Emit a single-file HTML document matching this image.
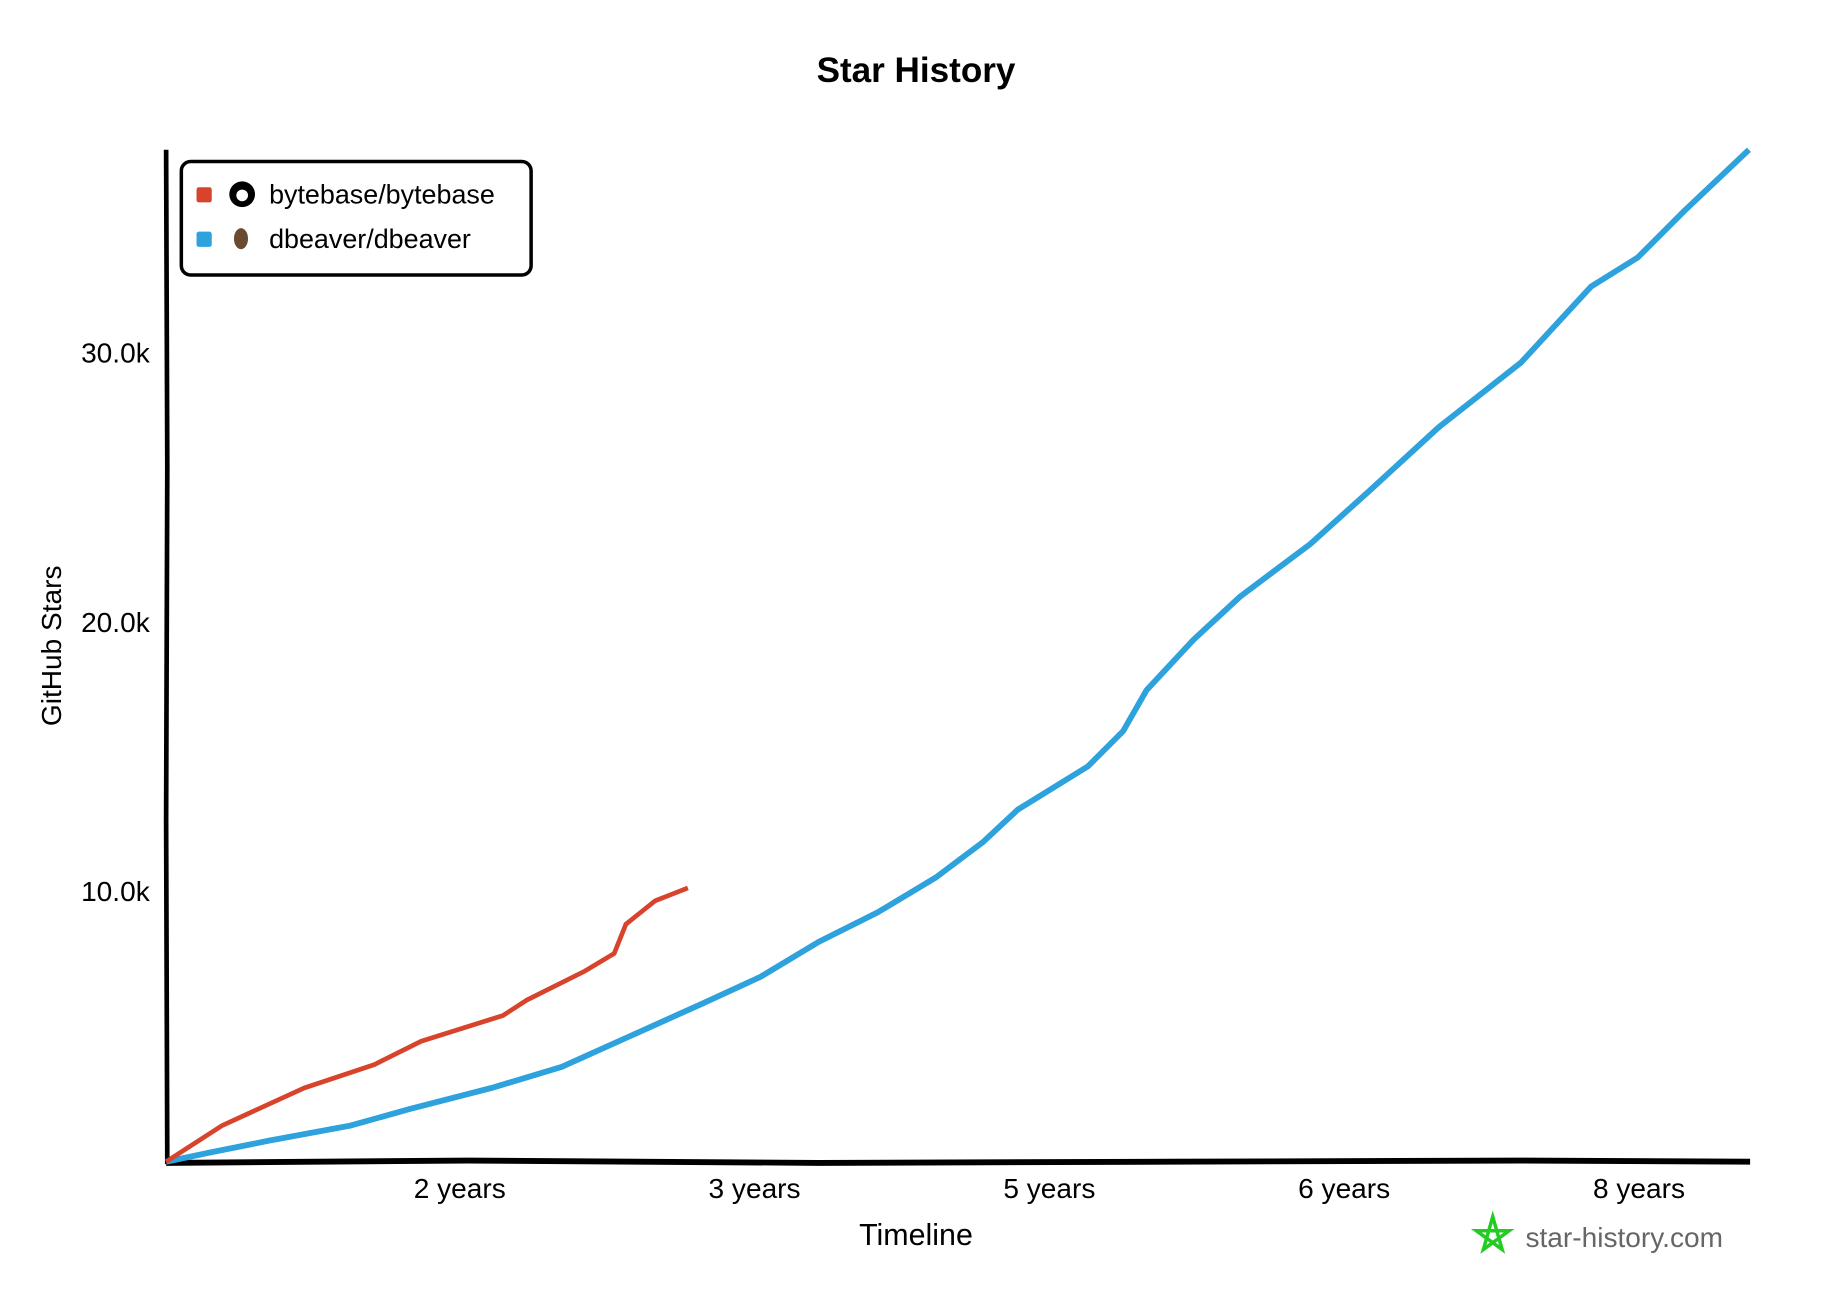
<!DOCTYPE html>
<html><head><style>
html,body{margin:0;padding:0;background:#fff;}
svg{display:block;}
text{font-family:"Liberation Sans",sans-serif;fill:#000;}
</style></head><body>
<svg width="1832" height="1308" viewBox="0 0 1566 1118" xmlns="http://www.w3.org/2000/svg">
<rect width="1566" height="1118" fill="#fff"/>
<text x="783" y="70" font-size="30" font-weight="bold" text-anchor="middle">Star History</text>
<path d="M142,128 L143,400 L142,700 L143,995" stroke="#000" stroke-width="4" fill="none"/>
<path d="M142,994 L400,992 L700,994 L1000,993 L1300,992 L1496,993" stroke="#000" stroke-width="5" fill="none"/>
<text x="128" y="310" font-size="24" text-anchor="end">30.0k</text>
<text x="128" y="540" font-size="24" text-anchor="end">20.0k</text>
<text x="128" y="770" font-size="24" text-anchor="end">10.0k</text>
<text transform="translate(52,552) rotate(-90)" font-size="24" text-anchor="middle">GitHub Stars</text>
<text x="393" y="1024" font-size="24" text-anchor="middle">2 years</text>
<text x="645" y="1024" font-size="24" text-anchor="middle">3 years</text>
<text x="897" y="1024" font-size="24" text-anchor="middle">5 years</text>
<text x="1149" y="1024" font-size="24" text-anchor="middle">6 years</text>
<text x="1401" y="1024" font-size="24" text-anchor="middle">8 years</text>
<text x="783" y="1064" font-size="26" text-anchor="middle">Timeline</text>
<polyline fill="none" stroke="#2ea2dc" stroke-width="5" stroke-linejoin="round" points="142,993 180,985 230,975 300,962 350,948 420,930 480,912 540,885 600,858 650,835 700,805 750,780 800,750 840,720 870,692 930,655 960,625 980,590 1020,547 1060,510 1120,465 1170,420 1230,365 1300,310 1360,245 1400,220 1440,180 1495,128"/>
<polyline fill="none" stroke="#d7442b" stroke-width="4" stroke-linejoin="round" points="142,993 190,962 260,930 320,910 360,890 430,868 450,855 500,830 525,815 535,790 560,770 588,759"/>
<rect x="155" y="138" width="299" height="97" rx="8" fill="#fff" stroke="#000" stroke-width="3"/>
<rect x="168" y="160" width="13" height="13" rx="2" fill="#d7442b"/>
<rect x="168" y="198" width="13" height="13" rx="2" fill="#2ea2dc"/>
<circle cx="207" cy="166" r="11" fill="#000"/>
<circle cx="207" cy="167" r="5" fill="#fff"/>
<ellipse cx="206" cy="204" rx="6" ry="9" fill="#6b4a2f"/>
<text x="230" y="174" font-size="23">bytebase/bytebase</text>
<text x="230" y="212" font-size="23">dbeaver/dbeaver</text>
<polygon points="1276,1040 1284,1068 1262,1052 1290,1052 1268,1068" fill="none" stroke="#22cc22" stroke-width="3"/>
<text x="1304" y="1066" font-size="24" style="fill:#666">star-history.com</text>
</svg>
</body></html>
